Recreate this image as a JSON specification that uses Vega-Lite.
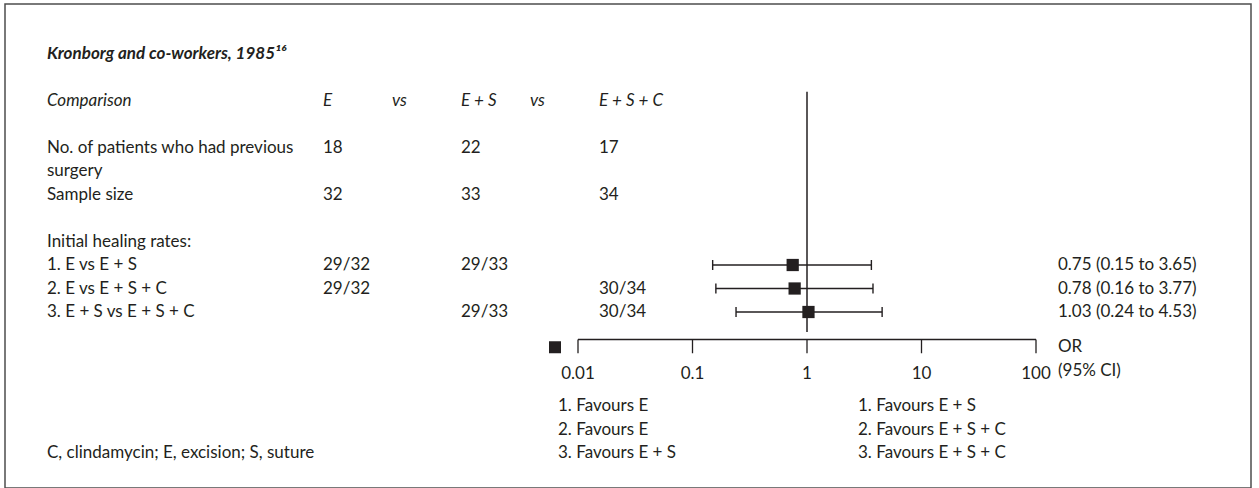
{
  "$schema": "https://vega.github.io/schema/vega-lite/v6.json",
  "width": 1259,
  "height": 488,
  "autosize": {"type": "fit", "contains": "padding"},
  "padding": {"left": 5, "top": 4, "right": 8, "bottom": 0},
  "background": "white",
  "config": {
    "view": {"stroke": "#4d4d4d", "strokeWidth": 1.5},
    "text": {"font": "Lato", "fontSize": 17, "color": "#231f20", "baseline": "middle"}
  },
  "datasets": {
    "title": [
      {"row": "title", "col": "label", "text": "Kronborg and co-workers, 1985¹⁶"}
    ],
    "header": [
      {"row": "comp", "col": "label", "text": "Comparison"},
      {"row": "comp", "col": "E", "text": "E"},
      {"row": "comp", "col": "vs1", "text": "vs"},
      {"row": "comp", "col": "ES", "text": "E + S"},
      {"row": "comp", "col": "vs2", "text": "vs"},
      {"row": "comp", "col": "ESC", "text": "E + S + C"}
    ],
    "cells": [
      {"row": "nopat", "col": "label", "text": "No. of patients who had previous"},
      {"row": "nopat", "col": "E", "text": "18"},
      {"row": "nopat", "col": "ES", "text": "22"},
      {"row": "nopat", "col": "ESC", "text": "17"},
      {"row": "surgery", "col": "label", "text": "surgery"},
      {"row": "sample", "col": "label", "text": "Sample size"},
      {"row": "sample", "col": "E", "text": "32"},
      {"row": "sample", "col": "ES", "text": "33"},
      {"row": "sample", "col": "ESC", "text": "34"},
      {"row": "initial", "col": "label", "text": "Initial healing rates:"},
      {"row": "r1", "col": "label", "text": "1. E vs E + S"},
      {"row": "r1", "col": "E", "text": "29/32"},
      {"row": "r1", "col": "ES", "text": "29/33"},
      {"row": "r2", "col": "label", "text": "2. E vs E + S + C"},
      {"row": "r2", "col": "E", "text": "29/32"},
      {"row": "r2", "col": "ESC", "text": "30/34"},
      {"row": "r3", "col": "label", "text": "3. E + S vs E + S + C"},
      {"row": "r3", "col": "ES", "text": "29/33"},
      {"row": "r3", "col": "ESC", "text": "30/34"},
      {"row": "fav3", "col": "label", "text": "C, clindamycin; E, excision; S, suture"}
    ],
    "notes": [
      {"row": "r1", "col": "stat", "text": "0.75 (0.15 to 3.65)"},
      {"row": "r2", "col": "stat", "text": "0.78 (0.16 to 3.77)"},
      {"row": "r3", "col": "stat", "text": "1.03 (0.24 to 4.53)"},
      {"row": "orlab", "col": "stat", "text": "OR"},
      {"row": "ticklab", "col": "stat", "text": "(95% CI)"},
      {"row": "fav1", "col": "favL", "text": "1. Favours E"},
      {"row": "fav2", "col": "favL", "text": "2. Favours E"},
      {"row": "fav3", "col": "favL", "text": "3. Favours E + S"},
      {"row": "fav1", "col": "favR", "text": "1. Favours E + S"},
      {"row": "fav2", "col": "favR", "text": "2. Favours E + S + C"},
      {"row": "fav3", "col": "favR", "text": "3. Favours E + S + C"}
    ],
    "forest": [
      {"row": "r1", "or": 0.75, "lo": 0.15, "hi": 3.65},
      {"row": "r2", "or": 0.78, "lo": 0.16, "hi": 3.77},
      {"row": "r3", "or": 1.03, "lo": 0.24, "hi": 4.53}
    ],
    "ticks": [
      {"or": 0.01, "label": "0.01"},
      {"or": 0.1, "label": "0.1"},
      {"or": 1, "label": "1"},
      {"or": 10, "label": "10"},
      {"or": 100, "label": "100"}
    ],
    "span": [{"lo": 0.01, "hi": 100}],
    "nullLine": [{"or": 1}],
    "legendKey": [{"row": "orlab", "col": "favL", "label": "point estimate"}]
  },
  "resolve": {"scale": {"x": "independent", "y": "shared"}},
  "layer": [
    {
      "data": {"name": "title"},
      "mark": {"type": "text", "align": "left", "fontWeight": "bold", "fontStyle": "italic", "fontSize": 17},
      "encoding": {
        "x": {"field": "col", "type": "nominal", "axis": null,
              "scale": {"type": "point", "domain": ["label", "_x1", "_x2", "_x3", "E", "vs1", "ES", "vs2", "ESC"], "range": [42, 594], "padding": 0}},
        "y": {"field": "row", "type": "nominal", "axis": null,
              "scale": {"type": "point", "domain": ["title", "_y1", "_y2", "_y3", "comp", "_y5", "_y6", "_y7", "nopat", "_y9", "surgery", "_y11", "sample", "_y13", "_y14", "_y15", "initial", "_y17", "r1", "_y19", "r2", "_y21", "r3", "_y23", "axis", "orlab", "_y26", "ticklab", "_y28", "_y29", "fav1", "_y31", "fav2", "_y33", "fav3"], "range": [49.5, 449], "padding": 0}},
        "text": {"field": "text", "type": "nominal"}
      }
    },
    {
      "data": {"name": "header"},
      "mark": {"type": "text", "align": "left", "fontStyle": "italic"},
      "encoding": {
        "x": {"field": "col", "type": "nominal", "axis": null,
              "scale": {"type": "point", "domain": ["label", "_x1", "_x2", "_x3", "E", "vs1", "ES", "vs2", "ESC"], "range": [42, 594], "padding": 0}},
        "y": {"field": "row", "type": "nominal", "axis": null},
        "text": {"field": "text", "type": "nominal"}
      }
    },
    {
      "data": {"name": "cells"},
      "mark": {"type": "text", "align": "left"},
      "encoding": {
        "x": {"field": "col", "type": "nominal", "axis": null,
              "scale": {"type": "point", "domain": ["label", "_x1", "_x2", "_x3", "E", "vs1", "ES", "vs2", "ESC"], "range": [42, 594], "padding": 0}},
        "y": {"field": "row", "type": "nominal", "axis": null},
        "text": {"field": "text", "type": "nominal"}
      }
    },
    {
      "data": {"name": "notes"},
      "mark": {"type": "text", "align": "left"},
      "encoding": {
        "x": {"field": "col", "type": "nominal", "axis": null,
              "scale": {"type": "point", "domain": ["favL", "_f1", "_f2", "favR", "_f3", "stat"], "range": [553, 1053], "padding": 0}},
        "y": {"field": "row", "type": "nominal", "axis": null},
        "text": {"field": "text", "type": "nominal"}
      }
    },
    {
      "data": {"name": "legendKey"},
      "mark": {"type": "point", "shape": "square", "filled": true, "size": 144, "opacity": 1, "color": "#231f20", "xOffset": -3},
      "encoding": {
        "x": {"field": "col", "type": "nominal", "axis": null,
              "scale": {"type": "point", "domain": ["favL", "_f1", "_f2", "favR", "_f3", "stat"], "range": [553, 1053], "padding": 0}},
        "y": {"field": "row", "type": "nominal", "axis": null}
      }
    },
    {
      "data": {"name": "nullLine"},
      "mark": {"type": "rule", "color": "#231f20", "strokeWidth": 1.5, "yOffset": 3, "y2Offset": -3.5},
      "encoding": {
        "x": {"field": "or", "type": "quantitative", "axis": null,
              "scale": {"type": "log", "domain": [0.01, 100], "range": [573, 1031]}},
        "y": {"datum": "_y3", "type": "nominal", "axis": null},
        "y2": {"datum": "axis"}
      }
    },
    {
      "data": {"name": "span"},
      "mark": {"type": "rule", "color": "#231f20", "strokeWidth": 1.3, "yOffset": 4},
      "encoding": {
        "x": {"field": "lo", "type": "quantitative", "axis": null,
              "scale": {"type": "log", "domain": [0.01, 100], "range": [573, 1031]}},
        "x2": {"field": "hi"},
        "y": {"datum": "axis", "type": "nominal", "axis": null}
      }
    },
    {
      "data": {"name": "ticks"},
      "mark": {"type": "rule", "color": "#231f20", "strokeWidth": 1.3, "yOffset": 4, "y2Offset": 6},
      "encoding": {
        "x": {"field": "or", "type": "quantitative", "axis": null,
              "scale": {"type": "log", "domain": [0.01, 100], "range": [573, 1031]}},
        "y": {"datum": "axis", "type": "nominal", "axis": null},
        "y2": {"datum": "orlab"}
      }
    },
    {
      "data": {"name": "ticks"},
      "mark": {"type": "text", "align": "center", "dy": 3},
      "encoding": {
        "x": {"field": "or", "type": "quantitative", "axis": null,
              "scale": {"type": "log", "domain": [0.01, 100], "range": [573, 1031]}},
        "y": {"datum": "ticklab", "type": "nominal", "axis": null},
        "text": {"field": "label", "type": "nominal"}
      }
    },
    {
      "data": {"name": "forest"},
      "mark": {"type": "rule", "color": "#231f20", "strokeWidth": 1.4},
      "encoding": {
        "x": {"field": "lo", "type": "quantitative", "axis": null,
              "scale": {"type": "log", "domain": [0.01, 100], "range": [573, 1031]}},
        "x2": {"field": "hi"},
        "y": {"field": "row", "type": "nominal", "axis": null}
      }
    },
    {
      "data": {"name": "forest"},
      "mark": {"type": "tick", "color": "#231f20", "size": 10, "thickness": 1.4, "orient": "vertical", "opacity": 1},
      "encoding": {
        "x": {"field": "lo", "type": "quantitative", "axis": null,
              "scale": {"type": "log", "domain": [0.01, 100], "range": [573, 1031]}},
        "y": {"field": "row", "type": "nominal", "axis": null}
      }
    },
    {
      "data": {"name": "forest"},
      "mark": {"type": "tick", "color": "#231f20", "size": 10, "thickness": 1.4, "orient": "vertical", "opacity": 1},
      "encoding": {
        "x": {"field": "hi", "type": "quantitative", "axis": null,
              "scale": {"type": "log", "domain": [0.01, 100], "range": [573, 1031]}},
        "y": {"field": "row", "type": "nominal", "axis": null}
      }
    },
    {
      "data": {"name": "forest"},
      "mark": {"type": "point", "shape": "square", "filled": true, "size": 150, "opacity": 1, "color": "#231f20"},
      "encoding": {
        "x": {"field": "or", "type": "quantitative", "axis": null,
              "scale": {"type": "log", "domain": [0.01, 100], "range": [573, 1031]}},
        "y": {"field": "row", "type": "nominal", "axis": null}
      }
    }
  ]
}
